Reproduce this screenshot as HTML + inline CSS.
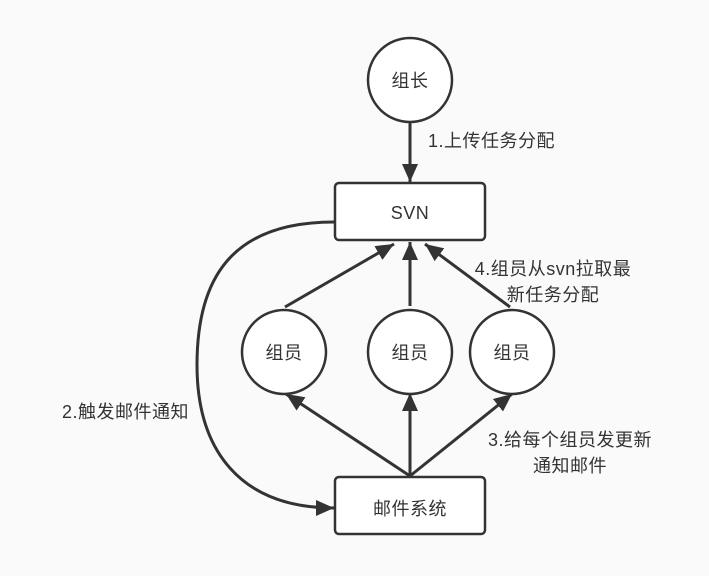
<!DOCTYPE html>
<html><head><meta charset="utf-8"><style>
html,body{margin:0;padding:0;background:#fafafa;}
svg text{font-family:"Liberation Sans","Noto Sans CJK SC",sans-serif;font-size:18px;fill:#333;letter-spacing:0.5px;}
</style></head><body>
<svg width="709" height="571" viewBox="0 0 709 571" xmlns="http://www.w3.org/2000/svg">
<defs>
<marker id="b" viewBox="0 0 12 12" refX="12" refY="6" markerWidth="18" markerHeight="16" markerUnits="userSpaceOnUse" orient="auto" preserveAspectRatio="none"><path d="M0,0 L12,6 L0,12 Z" fill="#333"/></marker></defs>
<g stroke="#333" stroke-width="3" fill="none">
<line x1="410" y1="123" x2="410" y2="182" marker-end="url(#b)"/>
<path d="M334,222 C230,222 197,280 197,365 C197,450 240,508 334,508" marker-end="url(#b)"/>
<line x1="285" y1="307" x2="394" y2="244" marker-end="url(#b)"/>
<line x1="410" y1="306" x2="410" y2="242" marker-end="url(#b)"/>
<line x1="510" y1="307" x2="425" y2="244" marker-end="url(#b)"/>
<line x1="410" y1="476" x2="286" y2="394" marker-end="url(#b)"/>
<line x1="410" y1="476" x2="410" y2="393" marker-end="url(#b)"/>
<line x1="410" y1="476" x2="512" y2="394" marker-end="url(#b)"/>
</g>
<g stroke="#333" stroke-width="2.5" fill="#fff">
<circle cx="410" cy="80" r="42"/>
<rect x="335" y="183" width="150" height="57" rx="4"/>
<rect x="335" y="477" width="150" height="57" rx="4"/>
<circle cx="284" cy="352" r="42"/>
<circle cx="410" cy="352" r="42"/>
<circle cx="512" cy="352" r="42"/>
</g>
<g text-anchor="middle">
<text x="410" y="87">组长</text>
<text x="410" y="219">SVN</text>
<text x="410" y="515">邮件系统</text>
<text x="284" y="359">组员</text>
<text x="410" y="359">组员</text>
<text x="512" y="359">组员</text>
<text x="553" y="275">4.组员从svn拉取最</text>
<text x="553" y="301">新任务分配</text>
<text x="570" y="446">3.给每个组员发更新</text>
<text x="570" y="472">通知邮件</text>
</g>
<text x="428" y="147">1.上传任务分配</text>
<text x="62" y="418">2.触发邮件通知</text>
</svg>
</body></html>
